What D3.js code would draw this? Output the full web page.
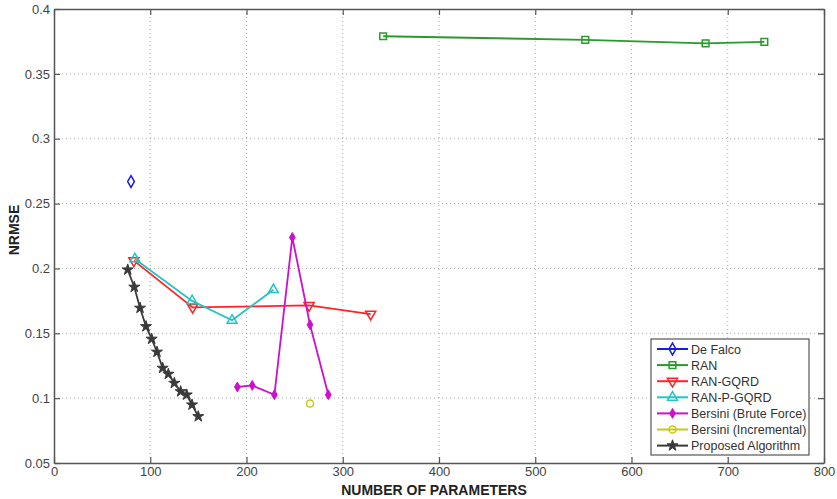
<!DOCTYPE html>
<html><head><meta charset="utf-8">
<script src="https://cdn.jsdelivr.net/npm/d3@7"></script>
<style>body{margin:0;background:#fff}svg{display:block}text{font-family:"Liberation Sans",Arial,sans-serif}</style>
</head><body><svg id="c" width="837" height="499"></svg>
<script>
const seriesNames = ["De Falco","RAN","RAN-GQRD","RAN-P-GQRD","Bersini (Brute Force)","Bersini (Incremental)","Proposed Algorithm"];
const deFalcoX = [80], deFalcoY = [0.267];
const ranX = [342, 552, 677, 738], ranY = [0.379, 0.3762, 0.3735, 0.3746];
const gqrdX = [83, 144, 265, 329], gqrdY = [0.206, 0.170, 0.1715, 0.1648];
const pgqrdX = [84, 143.5, 185, 228], pgqrdY = [0.2073, 0.175, 0.160, 0.1836];
const bruteX = [190.5, 206, 229, 247.6, 266, 285], bruteY = [0.1086, 0.1098, 0.1026, 0.2239, 0.1566, 0.1026];
const incrX = [266], incrY = [0.0959];
const propX = [76.6, 83.4, 89.4, 95.6, 101.5, 107, 112.9, 118.8, 125, 131.6, 137.9, 143.4, 149.9];
const propY = [0.199, 0.1857, 0.1695, 0.1553, 0.1456, 0.1356, 0.1232, 0.1186, 0.1116, 0.1051, 0.1026, 0.0949, 0.0859];
const xTicks = [0,100,200,300,400,500,600,700,800];
const yTicks = [0.05,0.1,0.15,0.2,0.25,0.3,0.35,0.4];

const svg = d3.select("#c");
const L=54, R=824, T=9, B=463;
const x = d3.scaleLinear().domain([0,800]).range([L,R]);
const y = d3.scaleLinear().domain([0.05,0.4]).range([B,T]);

// grid
const g = svg.append("g");
xTicks.slice(1,-1).forEach(t=>g.append("line").attr("x1",x(t)).attr("x2",x(t)).attr("y1",T).attr("y2",B).attr("stroke","#aaa").attr("stroke-dasharray","1,3"));
yTicks.slice(1,-1).forEach(t=>g.append("line").attr("y1",y(t)).attr("y2",y(t)).attr("x1",L).attr("x2",R).attr("stroke","#aaa").attr("stroke-dasharray","1,3"));

// axes
const axColor="#555";
const xa = svg.append("g").attr("transform",`translate(0,${B})`).call(d3.axisBottom(x).tickValues(xTicks).tickSizeInner(-6).tickSizeOuter(0).tickPadding(4).tickFormat(d3.format("d")));
const xt = svg.append("g").attr("transform",`translate(0,${T})`).call(d3.axisTop(x).tickValues(xTicks).tickSizeInner(-6).tickSizeOuter(0).tickFormat(""));
const ya = svg.append("g").attr("transform",`translate(${L},0)`).call(d3.axisLeft(y).tickValues(yTicks).tickSizeInner(-6).tickSizeOuter(0).tickPadding(4).tickFormat(d=>String(+d.toFixed(2))));
const yr = svg.append("g").attr("transform",`translate(${R},0)`).call(d3.axisRight(y).tickValues(yTicks).tickSizeInner(-6).tickSizeOuter(0).tickFormat(""));
[xa,xt,ya,yr].forEach(a=>{a.selectAll("path").attr("stroke",axColor).attr("stroke-width",1.5);a.selectAll("line").attr("stroke",axColor).attr("stroke-width",1.2);a.selectAll("text").attr("fill","#444").attr("font-size",13).attr("font-family","Liberation Sans, Arial, sans-serif");});

svg.append("text").attr("x",(L+R)/2-5).attr("y",495).attr("text-anchor","middle").attr("font-size",14).attr("font-weight","bold").attr("fill","#222").text("NUMBER OF PARAMETERS");
svg.append("text").attr("transform","translate(19,230) rotate(-90)").attr("text-anchor","middle").attr("font-size",14).attr("font-weight","bold").attr("fill","#222").text("NRMSE");

const colors = ["#1a1ae6","#2a9a2a","#ff2424","#22c4c4","#cc10cc","#c8c810","#3a3a3a"];
const syms = [
  {t:d3.symbolDiamond, s:40, fill:false},
  {t:d3.symbolSquare, s:45, fill:false},
  {t:"down", s:45, fill:false},
  {t:d3.symbolTriangle, s:42, fill:false},
  {t:d3.symbolDiamond, s:28, fill:true},
  {t:d3.symbolCircle, s:40, fill:false},
  {t:d3.symbolStar, s:38, fill:true}
];
const data = [[deFalcoX,deFalcoY],[ranX,ranY],[gqrdX,gqrdY],[pgqrdX,pgqrdY],[bruteX,bruteY],[incrX,incrY],[propX,propY]];
const line = d3.line().x(d=>x(d[0])).y(d=>y(d[1]));
function symPath(i){
  const s=syms[i];
  if(s.t==="down") return d3.symbol().type(d3.symbolTriangle).size(s.s)();
  return d3.symbol().type(s.t).size(s.s)();
}
function drawMarker(sel,i,px,py){
  const s=syms[i];
  sel.append("path").attr("d",symPath(i))
    .attr("transform",`translate(${px},${py})`+(s.t==="down"?" rotate(180)":""))
    .attr("fill",s.fill?colors[i]:"none").attr("stroke",colors[i]).attr("stroke-width",s.fill?1:1.5);
}
data.forEach(([xs,ys],i)=>{
  const pts = xs.map((v,k)=>[v,ys[k]]);
  if(pts.length>1) svg.append("path").datum(pts).attr("d",line).attr("fill","none").attr("stroke",colors[i]).attr("stroke-width",1.8);
  pts.forEach(p=>drawMarker(svg,i,x(p[0]),y(p[1])));
});

// legend
const lg = svg.append("g");
lg.append("rect").attr("x",651).attr("y",339).attr("width",158).attr("height",116).attr("fill","#fff").attr("stroke","#555").attr("stroke-width",1.2);
seriesNames.forEach((n,i)=>{
  const yy = 349 + i*16.1;
  lg.append("line").attr("x1",657).attr("x2",688).attr("y1",yy).attr("y2",yy).attr("stroke",colors[i]).attr("stroke-width",2);
  drawMarker(lg,i,672.5,yy);
  lg.append("text").attr("x",691).attr("y",yy+4.5).attr("font-size",12.5).attr("fill","#333").text(n);
});
</script></body></html>
